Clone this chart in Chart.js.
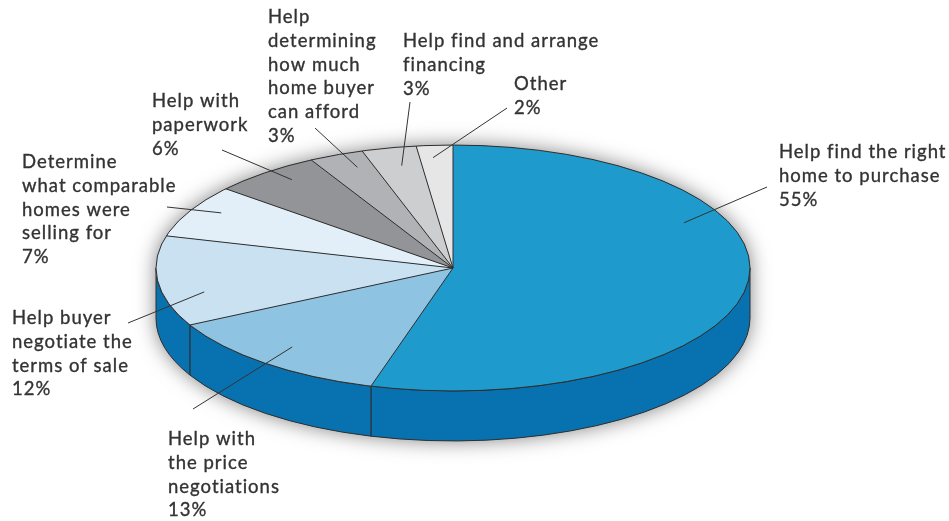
<!DOCTYPE html>
<html>
<head>
<meta charset="UTF-8">
<title>What buyers want from agents</title>
<script src="https://cdn.jsdelivr.net/npm/chart.js"></script>
<style>
  html, body { margin: 0; padding: 0; background: #fff; }
  canvas { display: block; }
</style>
</head>
<body>
<canvas id="pie" width="949" height="521"></canvas>
<script>
// --- data ---
const categories = [
  'Help find the right home to purchase',
  'Help with the price negotiations',
  'Help buyer negotiate the terms of sale',
  'Determine what comparable homes were selling for',
  'Help with paperwork',
  'Help determining how much home buyer can afford',
  'Help find and arrange financing',
  'Other'
];
const shares = [55, 13, 12, 7, 6, 3, 3, 2];
// how each label is broken over lines (the % line is added from shares)
const labelLines = [
  ['Help find the right', 'home to purchase'],
  ['Help with', 'the price', 'negotiations'],
  ['Help buyer', 'negotiate the', 'terms of sale'],
  ['Determine', 'what comparable', 'homes were', 'selling for'],
  ['Help with', 'paperwork'],
  ['Help', 'determining', 'how much', 'home buyer', 'can afford'],
  ['Help find and arrange', 'financing'],
  ['Other']
];

// --- styles ---
const topColors = ['#1e9bcc', '#8ec4e2', '#c9e1f0', '#e2eff8', '#939498', '#b1b2b5', '#cdced0', '#e6e6e7'];
const sideColor = '#0872b1';
const edgeColor = '#2e2e2e';
const textColor = '#333333';
const tilt = 0.414;   // vertical squash of the disc
const depth = 50;     // thickness of the disc, px

// label placement: text left x, first line centre y, leader outer end,
// and where the leader starts inside the slice (fraction of slice angle, fraction of radius)
const labelLayout = [
  { tx: 779, ty: 152, ox: 767, oy: 187, t: 0.33, f: 0.86 },
  { tx: 168, ty: 439, ox: 193, oy: 409, t: 0.52, f: 0.84 },
  { tx: 12,  ty: 318, ox: 128, oy: 323, t: 0.34, f: 0.86 },
  { tx: 22,  ty: 162, ox: 167, oy: 207, t: 0.59, f: 0.90 },
  { tx: 152, ty: 101, ox: 222, oy: 150, t: 0.60, f: 0.90 },
  { tx: 268, ty: 17,  ox: 315, oy: 128, t: 0.66, f: 0.88 },
  { tx: 403, ty: 41,  ox: 410, oy: 102, t: 0.57, f: 0.85 },
  { tx: 514, ty: 84,  ox: 507, oy: 108, t: 0.40, f: 0.90 }
];

const pie3d = {
  id: 'pie3d',
  beforeDatasetsDraw(chart) {
    const ctx = chart.ctx;
    const arcs = chart.getDatasetMeta(0).data;
    const cx = arcs[0].x, cy = arcs[0].y, r = arcs[0].outerRadius;
    const ry = r * tilt;

    // soft shadow round the whole disc
    ctx.save();
    ctx.shadowColor = 'rgba(0,0,0,0.5)';
    ctx.shadowBlur = 20;
    ctx.fillStyle = '#888';
    ctx.beginPath();
    ctx.ellipse(cx, cy, r, ry, 0, Math.PI, 2 * Math.PI);
    ctx.lineTo(cx + r, cy + depth);
    ctx.ellipse(cx, cy + depth, r, ry, 0, 0, Math.PI);
    ctx.closePath();
    ctx.fill();
    ctx.restore();

    // side wall, front half only
    ctx.save();
    ctx.strokeStyle = edgeColor;
    ctx.lineWidth = 1;
    arcs.forEach(arc => {
      const a0 = Math.max(arc.startAngle, 0);
      const a1 = Math.min(arc.endAngle, Math.PI);
      if (a1 <= a0) return;
      ctx.beginPath();
      ctx.ellipse(cx, cy, r, ry, 0, a0, a1);
      ctx.ellipse(cx, cy + depth, r, ry, 0, a1, a0, true);
      ctx.closePath();
      ctx.fillStyle = sideColor;
      ctx.fill();
      ctx.stroke();
    });
    ctx.restore();

    // squash the top face
    ctx.save();
    ctx.translate(cx, cy);
    ctx.scale(1, tilt);
    ctx.translate(-cx, -cy);
  },
  afterDatasetsDraw(chart) {
    const ctx = chart.ctx;
    ctx.restore();
    const arcs = chart.getDatasetMeta(0).data;
    const cx = arcs[0].x, cy = arcs[0].y, r = arcs[0].outerRadius;
    const ry = r * tilt;

    // edges of the top face
    ctx.save();
    ctx.strokeStyle = edgeColor;
    ctx.lineWidth = 1;
    arcs.forEach(arc => {
      ctx.beginPath();
      ctx.moveTo(cx, cy);
      ctx.lineTo(cx + r * Math.cos(arc.startAngle), cy + ry * Math.sin(arc.startAngle));
      ctx.stroke();
    });
    ctx.beginPath();
    ctx.ellipse(cx, cy, r, ry, 0, 0, 2 * Math.PI);
    ctx.stroke();

    // leader lines and labels
    ctx.fillStyle = textColor;
    ctx.font = '18.5px Lato, "Noto Sans", sans-serif';
    ctx.letterSpacing = '1px';
    ctx.textBaseline = 'middle';
    ctx.textAlign = 'left';
    arcs.forEach((arc, i) => {
      const L = labelLayout[i];
      const a = arc.startAngle + (arc.endAngle - arc.startAngle) * L.t;
      const ix = cx + r * L.f * Math.cos(a);
      const iy = cy + ry * L.f * Math.sin(a);
      ctx.strokeStyle = '#333';
      ctx.lineWidth = 1;
      ctx.beginPath();
      ctx.moveTo(ix, iy);
      ctx.lineTo(L.ox, L.oy);
      ctx.stroke();
      const lines = labelLines[i].concat([shares[i] + '%']);
      ctx.strokeStyle = textColor;
      ctx.lineWidth = 0.35;   // slightly heavier type, like the original
      lines.forEach((s, j) => {
        ctx.fillText(s, L.tx, L.ty + j * 23.8);
        ctx.strokeText(s, L.tx, L.ty + j * 23.8);
      });
    });
    ctx.restore();
  }
};

function draw() {
  new Chart(document.getElementById('pie'), {
    type: 'pie',
    data: {
      labels: categories,
      datasets: [{
        data: shares,
        backgroundColor: topColors,
        borderWidth: 0,
        clip: false
      }]
    },
    options: {
      responsive: false,
      animation: false,
      events: [],
      radius: 297,
      layout: { padding: { left: 0, right: 43, top: 15, bottom: 0 } },
      plugins: {
        legend: { display: false },
        tooltip: { enabled: false }
      }
    },
    plugins: [pie3d]
  });
}

if (document.fonts && document.fonts.load) {
  document.fonts.load('18px Lato').then(draw, draw);
} else {
  draw();
}
</script>
</body>
</html>
